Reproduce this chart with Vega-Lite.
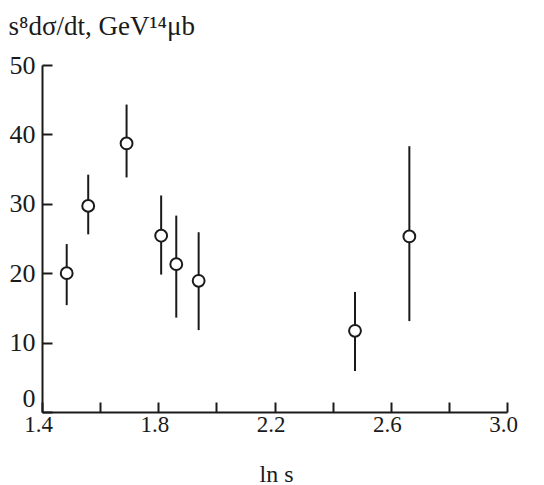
{
  "$schema": "https://vega.github.io/schema/vega-lite/v6.json",
  "width": 465,
  "height": 347,
  "autosize": {"type": "none"},
  "padding": {"left": 42, "top": 65, "right": 37, "bottom": 73},
  "background": "white",
  "config": {
    "view": {"stroke": null},
    "font": "Liberation Serif",
    "axis": {
      "domainColor": "#1a1a1a",
      "domainWidth": 2,
      "tickColor": "#1a1a1a",
      "tickWidth": 2,
      "tickSize": -10,
      "grid": false,
      "labelColor": "#1a1a1a",
      "titleColor": "#1a1a1a",
      "labelFont": "Liberation Serif",
      "titleFont": "Liberation Serif",
      "labelFontSize": 24,
      "titleFontSize": 24,
      "titleFontWeight": "normal"
    }
  },
  "data": {
    "values": [
      {"lns": 1.485, "v": 20.0, "lo": 15.4, "hi": 24.2},
      {"lns": 1.559, "v": 29.7, "lo": 25.6, "hi": 34.2},
      {"lns": 1.691, "v": 38.7, "lo": 33.8, "hi": 44.3},
      {"lns": 1.810, "v": 25.4, "lo": 19.8, "hi": 31.2},
      {"lns": 1.862, "v": 21.3, "lo": 13.6, "hi": 28.3},
      {"lns": 1.939, "v": 18.9, "lo": 11.8, "hi": 25.9},
      {"lns": 2.477, "v": 11.7, "lo": 5.9, "hi": 17.3},
      {"lns": 2.664, "v": 25.3, "lo": 13.1, "hi": 38.3}
    ]
  },
  "layer": [
    {
      "mark": {"type": "rule", "color": "#1a1a1a", "strokeWidth": 2},
      "encoding": {
        "x": {
          "field": "lns", "type": "quantitative",
          "scale": {"domain": [1.4, 3.0], "nice": false, "zero": false},
          "axis": {
            "values": [1.4, 1.6, 1.8, 2.0, 2.2, 2.4, 2.6, 2.8, 3.0],
            "labelExpr": "round(datum.value*10) % 4 == 2 ? format(datum.value, '.1f') : ''",
            "labelBaseline": "alphabetic",
            "labelFontSize": 23,
            "labelPadding": 29,
            "labelOffset": -4,
            "labelFlush": false,
            "labelOverlap": false,
            "title": "ln s",
            "titleAnchor": "start",
            "titleAlign": "center",
            "titleBaseline": "alphabetic",
            "titleX": 234,
            "titleY": 69
          }
        },
        "y": {
          "field": "lo", "type": "quantitative",
          "scale": {"domain": [0, 50], "nice": false},
          "axis": {
            "values": [0, 10, 20, 30, 40, 50],
            "labelPadding": 17,
            "labelFontSize": 26,
            "labelBaseline": {"condition": {"test": "datum.value == 0", "value": "alphabetic"}, "value": "middle"},
            "labelOffset": {"condition": {"test": "datum.value == 0", "value": -6}, "value": 0},
            "title": "s⁸dσ/dt, GeV¹⁴μb",
            "titleFontSize": 27,
            "titleAngle": 0,
            "titleAlign": "left",
            "titleBaseline": "alphabetic",
            "titleAnchor": "start",
            "titleX": -34,
            "titleY": -31
          }
        },
        "y2": {"field": "hi"}
      }
    },
    {
      "mark": {"type": "point", "shape": "circle", "filled": false, "fill": "white", "fillOpacity": 1, "stroke": "#1a1a1a", "strokeWidth": 2, "size": 140, "opacity": 1},
      "encoding": {
        "x": {"field": "lns", "type": "quantitative"},
        "y": {"field": "v", "type": "quantitative"}
      }
    }
  ]
}
